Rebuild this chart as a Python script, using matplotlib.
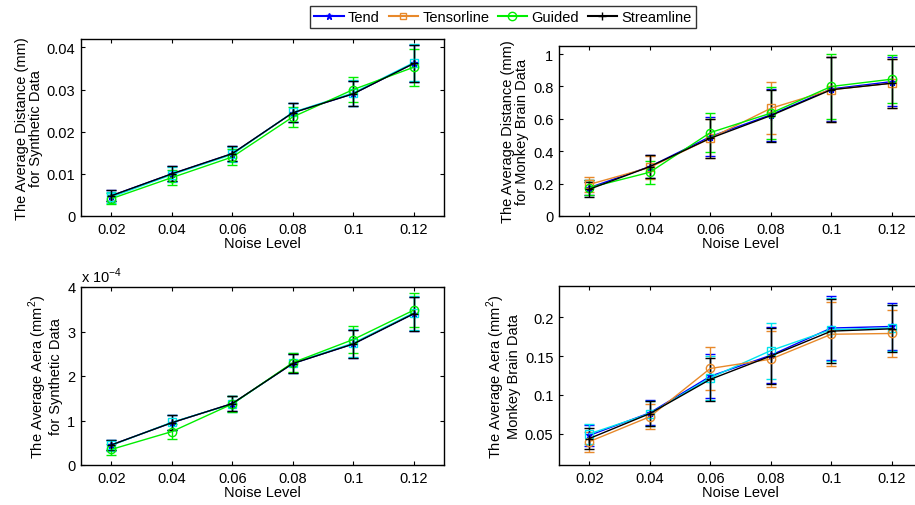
import matplotlib
matplotlib.use("Agg")
import matplotlib.pyplot as plt
from matplotlib.lines import Line2D

plt.rcParams["font.family"] = ["Liberation Sans", "DejaVu Sans"]
plt.rcParams["font.size"] = 10.5
plt.rcParams["mathtext.fontset"] = "custom"
plt.rcParams["mathtext.rm"] = "Liberation Sans"

noise = [0.02, 0.04, 0.06, 0.08, 0.1, 0.12]
methods = ["Tend", "Tensorline", "Guided", "Streamline"]

# synthetic data, average distance (mm)
syn_dist_tend = [0.0048, 0.0100, 0.0148, 0.0245, 0.0290, 0.0362]
syn_dist_tensor = [0.0045, 0.0098, 0.0146, 0.0246, 0.0292, 0.0364]
syn_dist_guided = [0.0041, 0.0091, 0.0140, 0.0235, 0.0300, 0.0353]
syn_dist_stream = [0.0048, 0.0100, 0.0148, 0.0245, 0.0290, 0.0362]
syn_dist_err = [0.0013, 0.0018, 0.0018, 0.0023, 0.0030, 0.0044]

# monkey brain data, average distance (mm)
mk_dist_tend = [0.175, 0.305, 0.490, 0.625, 0.785, 0.830]
mk_dist_tensor = [0.195, 0.300, 0.480, 0.665, 0.780, 0.820]
mk_dist_guided = [0.175, 0.270, 0.515, 0.635, 0.800, 0.845]
mk_dist_stream = [0.165, 0.305, 0.480, 0.620, 0.780, 0.820]
mk_dist_err = [0.045, 0.070, 0.120, 0.160, 0.200, 0.150]

# synthetic data, average area (mm^2)
syn_area_tend = [0.45e-4, 0.95e-4, 1.38e-4, 2.28e-4, 2.72e-4, 3.40e-4]
syn_area_tensor = [0.44e-4, 0.96e-4, 1.37e-4, 2.29e-4, 2.74e-4, 3.42e-4]
syn_area_guided = [0.35e-4, 0.75e-4, 1.37e-4, 2.30e-4, 2.82e-4, 3.48e-4]
syn_area_stream = [0.45e-4, 0.95e-4, 1.38e-4, 2.28e-4, 2.72e-4, 3.40e-4]
syn_area_err = [0.12e-4, 0.17e-4, 0.17e-4, 0.22e-4, 0.31e-4, 0.38e-4]

# monkey brain data, average area (mm^2)
mk_area_tend = [0.048, 0.077, 0.124, 0.151, 0.186, 0.188]
mk_area_tensor = [0.050, 0.076, 0.122, 0.157, 0.184, 0.186]
mk_area_guided = [0.040, 0.072, 0.134, 0.146, 0.178, 0.179]
mk_area_stream = [0.044, 0.076, 0.120, 0.150, 0.182, 0.185]
mk_area_err = [0.013, 0.016, 0.028, 0.036, 0.041, 0.030]

BLUE, ORANGE, GREEN, BLACK, CYAN = "#0000ff", "#e8892a", "#00ee00", "#000000", "#00e5ee"

W, H = 915, 506
fig = plt.figure(figsize=(W / 100, H / 100), dpi=100)


def make_axes(left, top, right, bottom):
    return fig.add_axes([left / W, 1 - bottom / H, (right - left) / W, (bottom - top) / H])


def panel(ax, series, colors, err, ylim, yticks, ylabel):
    markers = ["*", "s", "o", "+"]
    for vals, col, mk in zip(series, colors, markers):
        ax.errorbar(noise, vals, yerr=err, color=col, marker=mk, ms=6 if mk != "*" else 5,
                    mfc="none", mec=col, lw=1, elinewidth=1, capsize=3.5, capthick=1)
    ax.set_xlim(0.01, 0.13)
    ax.set_ylim(*ylim)
    ax.set_xticks(noise)
    ax.set_xticklabels(["0.02", "0.04", "0.06", "0.08", "0.1", "0.12"])
    ax.set_yticks(yticks)
    ax.tick_params(direction="in", top=True, right=True, length=3, pad=4)
    ax.set_xlabel("Noise Level", labelpad=0)
    ax.set_ylabel(ylabel, labelpad=3, linespacing=1.0)
    for sp in ax.spines.values():
        sp.set_linewidth(1.0)


ax1 = make_axes(81, 40, 444, 217)
panel(ax1, [syn_dist_tend, syn_dist_tensor, syn_dist_guided, syn_dist_stream],
      [BLUE, CYAN, GREEN, BLACK], syn_dist_err, (0, 0.042),
      [0, 0.01, 0.02, 0.03, 0.04], "The Average Distance (mm)\nfor Synthetic Data")
ax1.set_yticklabels(["0", "0.01", "0.02", "0.03", "0.04"])

ax2 = make_axes(559, 47, 922, 217)
panel(ax2, [mk_dist_tend, mk_dist_tensor, mk_dist_guided, mk_dist_stream],
      [BLUE, ORANGE, GREEN, BLACK], mk_dist_err, (0, 1.05),
      [0, 0.2, 0.4, 0.6, 0.8, 1.0], "The Average Distance (mm)\nfor Monkey Brain Data")
ax2.set_yticklabels(["0", "0.2", "0.4", "0.6", "0.8", "1"])

ax3 = make_axes(81, 288, 444, 466)
panel(ax3, [syn_area_tend, syn_area_tensor, syn_area_guided, syn_area_stream],
      [BLUE, CYAN, GREEN, BLACK], syn_area_err, (0, 4e-4),
      [0, 1e-4, 2e-4, 3e-4, 4e-4], "The Average Aera (mm$^2$)\nfor Synthetic Data")
ax3.set_yticklabels(["0", "1", "2", "3", "4"])
ax3.text(0.0, 1.01, r"x 10$^{-4}$", transform=ax3.transAxes, ha="left", va="bottom")

ax4 = make_axes(559, 287, 922, 466)
panel(ax4, [mk_area_tend, mk_area_tensor, mk_area_guided, mk_area_stream],
      [BLUE, CYAN, ORANGE, BLACK], mk_area_err, (0.01, 0.24),
      [0.05, 0.1, 0.15, 0.2], "The Average Aera (mm$^2$)\nMonkey Brain Data")
ax4.set_yticklabels(["0.05", "0.1", "0.15", "0.2"])

handles = [
    Line2D([], [], color=BLUE, marker="*", ms=5),
    Line2D([], [], color=ORANGE, marker="s", ms=5, mfc="none"),
    Line2D([], [], color=GREEN, marker="o", ms=6, mfc="none"),
    Line2D([], [], color=BLACK, marker="+", ms=6),
]
leg = fig.legend(handles, methods, loc="center", bbox_to_anchor=(503 / W, 1 - 18 / H),
                 ncol=4, frameon=True, fancybox=False, edgecolor="black",
                 handlelength=2.0, handletextpad=0.3, columnspacing=0.6,
                 borderpad=0.3, borderaxespad=0)
leg.get_frame().set_linewidth(1.0)

fig.savefig("out.png", dpi=100)
